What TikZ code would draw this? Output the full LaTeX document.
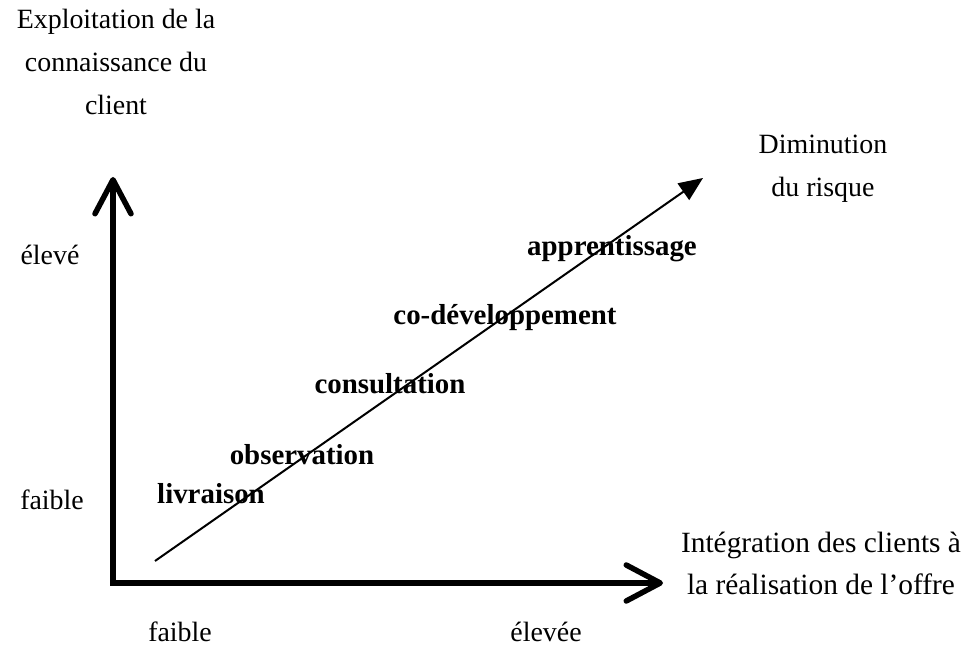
\documentclass[tikz,border=0pt]{standalone}
\usepackage{fontspec}
\setmainfont{Liberation Serif}
\usetikzlibrary{arrows.meta}
\begin{document}
\begin{tikzpicture}[>=latex,line join=miter,
  every node/.style={font=\fontsize{28}{43}\selectfont,inner sep=0pt},
  stage/.style={font=\fontsize{29}{43}\selectfont\bfseries},
  axis/.style={line width=5.5bp,{Straight Barb[length=34bp,width=36bp,round]}-{Straight Barb[length=34bp,width=36bp,round]}},
  trend/.style={line width=2bp,-{Triangle[length=24bp,width=20bp]}}]
\useasboundingbox (0bp,0bp) rectangle (967bp,653bp);
%%
\coordinate (y_top) at (113.0bp,476.0bp);
\coordinate (origin) at (113.0bp,70.0bp);
\coordinate (x_end) at (663.0bp,70.0bp);
\coordinate (risk_low) at (155.0bp,92.0bp);
\coordinate (risk_high) at (703.0bp,475.0bp);
%
\node (y_title) at (116.0bp,591.0bp) [align=center] {Exploitation de la\\connaissance du\\client};
  \node (y_high) at (50.0bp,398.0bp) {élevé};
  \node (y_low) at (52.0bp,153.0bp) {faible};
  \node (x_low) at (180.0bp,21.0bp) {faible};
  \node (x_high) at (546.0bp,21.0bp) {élevée};
  \node (risk_title) at (823.0bp,484.0bp) [align=center] {Diminution\\du risque};
  \node (x_title) at (821.0bp,89.5bp) [align=center,font=\fontsize{29.5}{43}\selectfont] {Intégration des clients à\\la réalisation de l'offre};
%
\node (stage_0) at (211.0bp,159.0bp) [stage] {livraison};
  \node (stage_1) at (302.0bp,198.0bp) [stage] {observation};
  \node (stage_2) at (390.0bp,269.0bp) [stage] {consultation};
  \node (stage_3) at (505.0bp,335.0bp) [stage] {co-développement};
  \node (stage_4) at (612.0bp,404.0bp) [stage] {apprentissage};
%
\draw [black,axis] (y_top) -- (origin) -- (x_end);
  \draw [black,trend] (risk_low) -- (risk_high);
%
\end{tikzpicture}
\end{document}
